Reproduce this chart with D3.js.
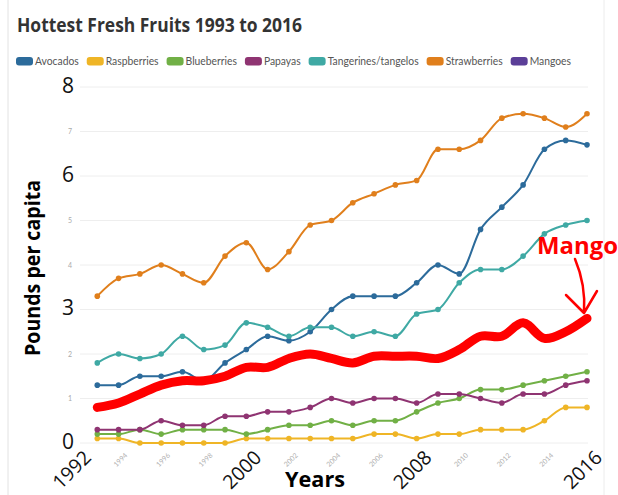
<!DOCTYPE html>
<html>
<head>
<meta charset="utf-8">
<script src="https://cdn.jsdelivr.net/npm/d3@7"></script>
<style>
body { margin: 0; background: #fff; }
svg { display: block; font-family: "Open Sans", sans-serif; }
</style>
</head>
<body>
<div id="chart"></div>
<script>
// data
var years = [1993,1994,1995,1996,1997,1998,1999,2000,2001,2002,2003,2004,2005,2006,2007,2008,2009,2010,2011,2012,2013,2014,2015,2016];
var avocados     = [1.3,1.3,1.5,1.5,1.6,1.4,1.8,2.1,2.4,2.3,2.5,3.0,3.3,3.3,3.3,3.6,4.0,3.8,4.8,5.3,5.8,6.6,6.8,6.7];
var raspberries  = [0.1,0.1,0,0,0,0,0,0.1,0.1,0.1,0.1,0.1,0.1,0.2,0.2,0.1,0.2,0.2,0.3,0.3,0.3,0.5,0.8,0.8];
var blueberries  = [0.2,0.2,0.3,0.2,0.3,0.3,0.3,0.2,0.3,0.4,0.4,0.5,0.4,0.5,0.5,0.7,0.9,1.0,1.2,1.2,1.3,1.4,1.5,1.6];
var papayas      = [0.3,0.3,0.3,0.5,0.4,0.4,0.6,0.6,0.7,0.7,0.8,1.0,0.9,1.0,1.0,0.9,1.1,1.1,1.0,0.9,1.1,1.1,1.3,1.4];
var tangerines   = [1.8,2.0,1.9,2.0,2.4,2.1,2.2,2.7,2.6,2.4,2.6,2.6,2.4,2.5,2.4,2.9,3.0,3.6,3.9,3.9,4.2,4.7,4.9,5.0];
var strawberries = [3.3,3.7,3.8,4.0,3.8,3.6,4.2,4.5,3.9,4.3,4.9,5.0,5.4,5.6,5.8,5.9,6.6,6.6,6.8,7.3,7.4,7.3,7.1,7.4];
var mangoes      = [0.8,0.9,1.1,1.3,1.4,1.4,1.5,1.7,1.7,1.9,2.0,1.9,1.8,1.95,1.95,1.95,1.9,2.1,2.4,2.4,2.7,2.35,2.5,2.8];

var seriesNames = ["Avocados","Raspberries","Blueberries","Papayas","Tangerines/tangelos","Strawberries","Mangoes"];
var seriesValues = [avocados, raspberries, blueberries, papayas, tangerines, strawberries, mangoes];
var colors = ["#2c6b9b","#efb526","#71b046","#8f3472","#3fa9a4","#e07f1c","#5b3f98"];

var gridTicks = [0,1,2,3,4,5,6,7,8];
var smallYTicks = [1,2,4,5,7];
var bigYTicks = [0,3,6,8];
var smallXTicks = [1994,1996,1998,2002,2004,2006,2010,2012,2014];
var bigXTicks = [1992,2000,2008,2016];

var width = 618, height = 495;

var svg = d3.select("#chart").append("svg")
	.attr("width", width)
	.attr("height", height);

var x = d3.scaleLinear().domain([1992, 2016]).range([76, 587]);
var y = d3.scaleLinear().domain([0, 8]).range([443, 87]);

// frame bits of the screenshot
svg.append("line").attr("x1", 8).attr("x2", 8).attr("y1", 0).attr("y2", height)
	.attr("stroke", "#e2e2e2");
svg.append("line").attr("x1", 604).attr("x2", 604).attr("y1", 0).attr("y2", height)
	.attr("stroke", "#ececec");

// title
svg.append("text")
	.attr("x", 17).attr("y", 32)
	.attr("font-size", 19).attr("font-weight", "bold")
	.attr("fill", "#333")
	.attr("textLength", 285).attr("lengthAdjust", "spacingAndGlyphs")
	.text("Hottest Fresh Fruits 1993 to 2016");

// legend: fit the row between x=16 and x=571 like the original
var legend = svg.append("g");
var items = legend.selectAll("g")
	.data(seriesNames)
	.enter().append("g");
items.append("rect").attr("y", 57).attr("width", 17).attr("height", 8.5).attr("rx", 3)
	.attr("fill", function(d, i){ return colors[i]; });
var labels = items.append("text").attr("y", 65)
	.attr("font-size", 10.5).attr("fill", "#555")
	.attr("font-family", "Lato, sans-serif")
	.text(function(d){ return d; });
var natural = [];
labels.each(function(){ natural.push(this.getComputedTextLength()); });
var gap = 8, offs = 19;
var k = (555 - offs * seriesNames.length - gap * (seriesNames.length - 1)) / d3.sum(natural);
var lx = 16;
items.each(function(d, i){
	var w = natural[i] * k;
	d3.select(this).select("rect").attr("x", lx);
	d3.select(this).select("text").attr("x", lx + offs)
		.attr("textLength", w).attr("lengthAdjust", "spacingAndGlyphs");
	lx += offs + w + gap;
});

// grid
svg.append("g").selectAll("line")
	.data(gridTicks)
	.enter().append("line")
	.attr("x1", 80).attr("x2", 588)
	.attr("y1", function(d){ return y(d); })
	.attr("y2", function(d){ return y(d); })
	.attr("stroke", "#eeeeee");

// small original axis labels
var ySmall = svg.append("g")
	.attr("transform", "translate(75,0)")
	.call(d3.axisLeft(y).tickValues(smallYTicks).tickSize(0).tickFormat(d3.format("d")));
ySmall.select(".domain").remove();
ySmall.selectAll("text").attr("font-size", 7).attr("fill", "#aaa").attr("font-family", "Lato, sans-serif");

var xSmall = svg.append("g")
	.attr("transform", "translate(0,448)")
	.call(d3.axisBottom(x).tickValues(smallXTicks).tickSize(0).tickFormat(d3.format("d")));
xSmall.select(".domain").remove();
xSmall.selectAll("text")
	.attr("font-size", 7).attr("fill", "#b0b0b0").attr("font-family", "Lato, sans-serif")
	.attr("text-anchor", "end")
	.attr("dy", "0.35em")
	.attr("transform", "translate(5,4) rotate(-45)");

// lines
var line = d3.line()
	.x(function(d, i){ return x(years[i]); })
	.y(function(d){ return y(d); })
	.curve(d3.curveMonotoneX);

var series = svg.append("g").selectAll("g")
	.data(seriesValues)
	.enter().append("g");

series.append("path")
	.attr("d", function(d){ return line(d); })
	.attr("fill", "none")
	.attr("stroke", function(d, i){ return colors[i]; })
	.attr("stroke-width", 2);

series.each(function(vals, i){
	d3.select(this).selectAll("circle")
		.data(vals)
		.enter().append("circle")
		.attr("cx", function(d, j){ return x(years[j]); })
		.attr("cy", function(d){ return y(d); })
		.attr("r", 2.8)
		.attr("fill", colors[i]);
});

// red highlight drawn over mangoes
var redLine = d3.line()
	.x(function(d, i){ return x(years[i]); })
	.y(function(d){ return y(d); })
	.curve(d3.curveCatmullRom.alpha(0.5));

svg.append("path")
	.attr("d", redLine(mangoes))
	.attr("fill", "none")
	.attr("stroke", "#ff0000")
	.attr("stroke-width", 9)
	.attr("stroke-linecap", "round")
	.attr("stroke-linejoin", "round");

// big pasted axis labels
var yBig = svg.append("g")
	.attr("transform", "translate(77,0)")
	.call(d3.axisLeft(y).tickValues(bigYTicks).tickSize(0).tickFormat(d3.format("d")));
yBig.select(".domain").remove();
yBig.selectAll("text").attr("font-size", 21).attr("fill", "#111").attr("font-family", "Open Sans, sans-serif")
	.attr("dy", "0.25em");

var xBig = svg.append("g")
	.attr("transform", "translate(0,447)")
	.call(d3.axisBottom(x).tickValues(bigXTicks).tickSize(0).tickFormat(d3.format("d")));
xBig.select(".domain").remove();
xBig.selectAll("text")
	.attr("font-size", 19.5).attr("fill", "#111").attr("font-family", "Open Sans, sans-serif")
	.attr("text-anchor", "end")
	.attr("dy", "0.7em")
	.attr("transform", "translate(4,0) rotate(-45)");

// axis titles
svg.append("text")
	.attr("transform", "translate(40,268) rotate(-90)")
	.attr("text-anchor", "middle")
	.attr("font-size", 21).attr("font-weight", "bold").attr("fill", "#000")
	.attr("textLength", 176).attr("lengthAdjust", "spacingAndGlyphs")
	.text("Pounds per capita");

svg.append("text")
	.attr("x", 315).attr("y", 487)
	.attr("text-anchor", "middle")
	.attr("font-size", 22).attr("font-weight", "bold").attr("fill", "#000")
	.attr("textLength", 60).attr("lengthAdjust", "spacingAndGlyphs")
	.text("Years");

// Mango annotation
svg.append("text")
	.attr("x", 537).attr("y", 254)
	.attr("font-size", 24).attr("font-weight", "bold").attr("fill", "#ff0000")
	.attr("textLength", 81).attr("lengthAdjust", "spacingAndGlyphs")
	.text("Mango");

svg.append("path")
	.attr("d", "M575,259 Q586,285 584,313 M566,295 L584,313 L597,291")
	.attr("fill", "none")
	.attr("stroke", "#ff0000")
	.attr("stroke-width", 2.5)
	.attr("stroke-linecap", "round")
	.attr("stroke-linejoin", "round");
</script>
</body>
</html>
